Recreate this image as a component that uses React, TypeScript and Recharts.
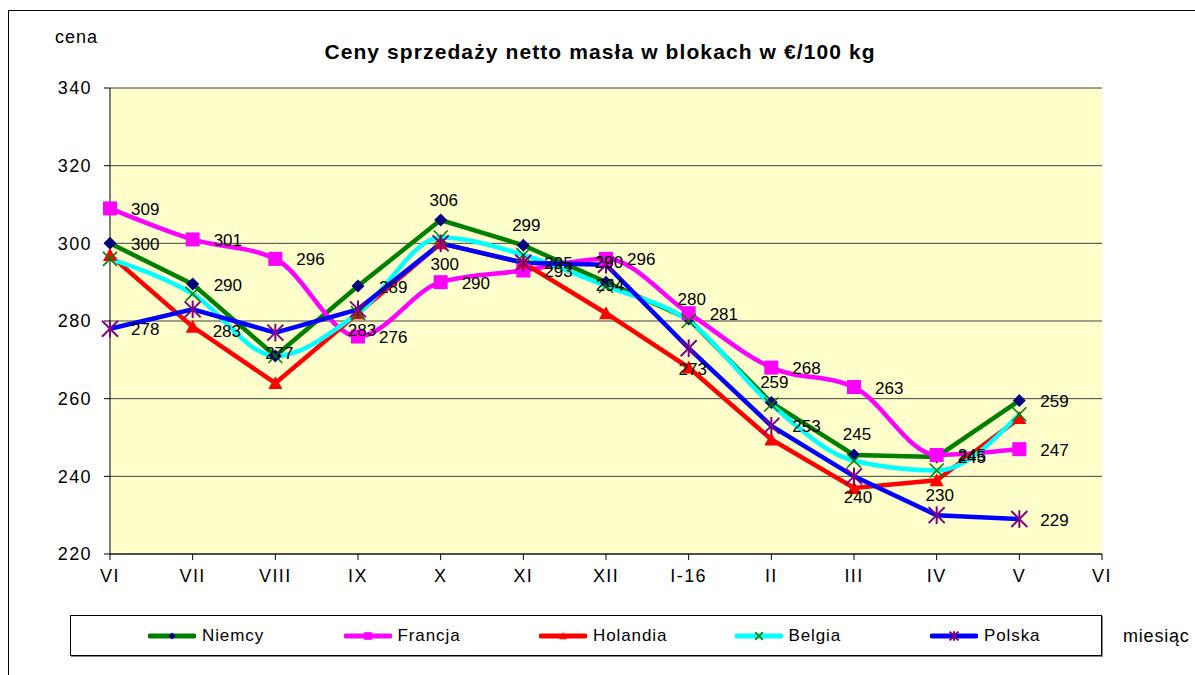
import React from "react";
import { LineChart, Line, XAxis, YAxis, CartesianGrid, LabelList } from "recharts";

const FONT = "'Liberation Sans', Arial, sans-serif";

// months on the x axis (last one has no data)
const months = ["VI", "VII", "VIII", "IX", "X", "XI", "XII", "I-16", "II", "III", "IV", "V", "VI"];

const niemcy = [300, 289.5, 271, 289, 306, 299.5, 290, 280.5, 259, 245.5, 245, 259.5];
const francja = [309, 301, 296, 276, 290, 293, 296, 282, 268, 263, 245.5, 247];
const holandia = [297, 278.5, 264, 282, 300, 295, 282, 268, 249.5, 237, 239, 255];
const belgia = [296, 287, 271, 282, 301.5, 297, 289, 280, 258.5, 244, 241.5, 256];
const polska = [278, 283, 277, 283, 300, 295, 294.5, 273, 253, 240, 230, 229];

// data labels as printed on the chart
const niemcyLabels = [300, 290, null, 289, 306, 299, 290, 280, 259, 245, 245, 259];
const francjaLabels = [309, 301, 296, 276, 290, 293, 296, 281, 268, 263, 245, 247];
const polskaLabels = [278, 283, 277, 283, 300, 295, 294, 273, 253, 240, 230, 229];

const yTicks = [220, 240, 260, 280, 300, 320, 340];

const data = months.map((m, i) => ({
  m,
  nie: niemcy[i] ?? null,
  fra: francja[i] ?? null,
  hol: holandia[i] ?? null,
  bel: belgia[i] ?? null,
  pol: polska[i] ?? null,
  nieL: niemcyLabels[i] ?? null,
  fraL: francjaLabels[i] ?? null,
  polL: polskaLabels[i] ?? null,
}));

type Shape = "diamond" | "square" | "triangle" | "x" | "star";

const drawMarker = (shape: Shape, cx: number, cy: number, s: number, color: string) => {
  switch (shape) {
    case "diamond":
      return <polygon points={`${cx},${cy - s} ${cx + s},${cy} ${cx},${cy + s} ${cx - s},${cy}`} fill={color} />;
    case "square":
      return <rect x={cx - s} y={cy - s} width={s * 2} height={s * 2} fill={color} />;
    case "triangle":
      return <polygon points={`${cx},${cy - s} ${cx + s},${cy + s * 0.85} ${cx - s},${cy + s * 0.85}`} fill={color} />;
    case "x":
      return (
        <g stroke={color} strokeWidth={1.6}>
          <line x1={cx - s} y1={cy - s} x2={cx + s} y2={cy + s} />
          <line x1={cx - s} y1={cy + s} x2={cx + s} y2={cy - s} />
        </g>
      );
    default:
      return (
        <g stroke={color} strokeWidth={2}>
          <line x1={cx - s} y1={cy - s} x2={cx + s} y2={cy + s} />
          <line x1={cx - s} y1={cy + s} x2={cx + s} y2={cy - s} />
          <line x1={cx} y1={cy - s * 1.1} x2={cx} y2={cy + s * 1.1} />
        </g>
      );
  }
};

// where each data label sits next to its point: r = right, a = above, b = below
const series = [
  {
    key: "nie", label: "nieL", name: "Niemcy", color: "#008000", marker: "#000080", shape: "diamond" as Shape, size: 6.5, curve: "linear",
    labelPos: ["r", "r", "r", "r", "a", "a", "a", "a", "a", "a", "r", "r"],
  },
  {
    key: "fra", label: "fraL", name: "Francja", color: "#FF00FF", marker: "#FF00FF", shape: "square" as Shape, size: 7, curve: "monotone",
    labelPos: [],
  },
  { key: "hol", label: null, name: "Holandia", color: "#FF0000", marker: "#FF0000", shape: "triangle" as Shape, size: 7, curve: "linear", labelPos: [] },
  { key: "bel", label: null, name: "Belgia", color: "#00FFFF", marker: "#008000", shape: "x" as Shape, size: 7, curve: "monotone", labelPos: [] },
  {
    key: "pol", label: "polL", name: "Polska", color: "#0000FF", marker: "#800080", shape: "star" as Shape, size: 8, curve: "linear",
    labelPos: ["r", "br", "b", "b", "b", "r", "b", "b", "r", "b", "a", "r"],
  },
];

const makeDot = (shape: Shape, size: number, color: string) => (p: any) => {
  if (p.cx == null || p.cy == null || p.value == null) return <g key={`e-${p.index}`} />;
  return <g key={`d-${p.index}`}>{drawMarker(shape, p.cx, p.cy, size, color)}</g>;
};

const makeLabel = (pos: string[]) => (p: any) => {
  if (p.value == null || p.x == null) return null;
  const where = pos[p.index] ?? "r";
  let x = p.x + 21;
  let y = p.y + 1;
  let anchor: "start" | "middle" = "start";
  if (where === "a") {
    x = p.x + 3;
    y = p.y - 20;
    anchor = "middle";
  } else if (where === "b") {
    x = p.x + 4;
    y = p.y + 21;
    anchor = "middle";
  } else if (where === "br") {
    x = p.x + 20;
    y = p.y + 22;
  }
  return (
    <text x={x} y={y} textAnchor={anchor} dominantBaseline="central" fontSize={17} fontFamily={FONT} fill="#000">
      {p.value}
    </text>
  );
};

const LegendBox = () => (
  <div
    style={{
      position: "absolute",
      left: 70,
      top: 615,
      width: 1032,
      height: 41,
      border: "1px solid #000",
      boxShadow: "1px 1px 0 #888",
      display: "flex",
      alignItems: "center",
      paddingLeft: 77,
      boxSizing: "border-box",
      overflow: "hidden",
    }}
  >
    {series.map((s) => (
      <div key={s.key} style={{ width: 195.5, flexShrink: 0, display: "flex", alignItems: "center" }}>
        <svg width={48} height={14} style={{ display: "block" }}>
          <line x1={2} y1={7} x2={46} y2={7} stroke={s.color} strokeWidth={5} strokeLinecap="round" />
          {drawMarker(s.shape, 24, 7, s.size * 0.55, s.marker)}
        </svg>
        <span style={{ fontFamily: FONT, fontSize: 17, marginLeft: 6, letterSpacing: 0.9, color: "#000" }}>{s.name}</span>
      </div>
    ))}
  </div>
);

const tickStyle = { fontSize: 18, fill: "#000", fontFamily: FONT, letterSpacing: 1.4 };

export default function App() {
  return (
    <div style={{ position: "absolute", left: 0, top: 0, width: 1195, height: 675, overflow: "hidden", background: "#fff" }}>
      <div style={{ position: "absolute", left: 8, top: 10, width: 1200, height: 700, border: "1px solid #000" }} />
      <div style={{ position: "absolute", left: 55, top: 27, fontFamily: FONT, fontSize: 18, letterSpacing: 1, color: "#000" }}>cena</div>
      <div
        style={{
          position: "absolute",
          left: 0,
          width: 1200,
          top: 40,
          textAlign: "center",
          fontFamily: FONT,
          fontSize: 21,
          fontWeight: "bold",
          letterSpacing: 1.1,
          color: "#000",
        }}
      >
        Ceny sprzedaży netto masła w blokach w €/100 kg
      </div>
      <div style={{ position: "absolute", left: 0, top: 0 }}>
        <LineChart width={1195} height={675} data={data} margin={{ top: 88, right: 93, bottom: 81, left: 50 }}>
          <CartesianGrid vertical={false} horizontal fill="#FFFFCC" stroke="#404040" strokeOpacity={1} />
          <XAxis
            dataKey="m"
            allowDuplicatedCategory
            interval={0}
            height={40}
            tickSize={6}
            tickMargin={9}
            tick={tickStyle}
            tickLine={{ stroke: "#000" }}
            axisLine={{ stroke: "#000" }}
          />
          <YAxis
            domain={[220, 340]}
            ticks={yTicks}
            width={60}
            tickSize={6}
            tickMargin={12}
            tick={tickStyle}
            tickLine={{ stroke: "#000" }}
            axisLine={{ stroke: "#000" }}
          />
          <YAxis yAxisId="r" orientation="right" width={0} domain={[220, 340]} tick={false} tickLine={false} axisLine={{ stroke: "#404040", strokeWidth: 1.5 }} />
          {series.map((s) => (
            <Line
              key={s.key}
              dataKey={s.key}
              name={s.name}
              type={s.curve as any}
              stroke={s.color}
              strokeWidth={4.5}
              dot={makeDot(s.shape, s.size, s.marker)}
              activeDot={false}
              isAnimationActive={false}
            >
              {s.label ? <LabelList dataKey={s.label} content={makeLabel(s.labelPos)} /> : null}
            </Line>
          ))}
        </LineChart>
      </div>
      <LegendBox />
      <div style={{ position: "absolute", left: 1123, top: 626, fontFamily: FONT, fontSize: 18, letterSpacing: 0.8, color: "#000", whiteSpace: "nowrap" }}>miesiąc</div>
    </div>
  );
}
